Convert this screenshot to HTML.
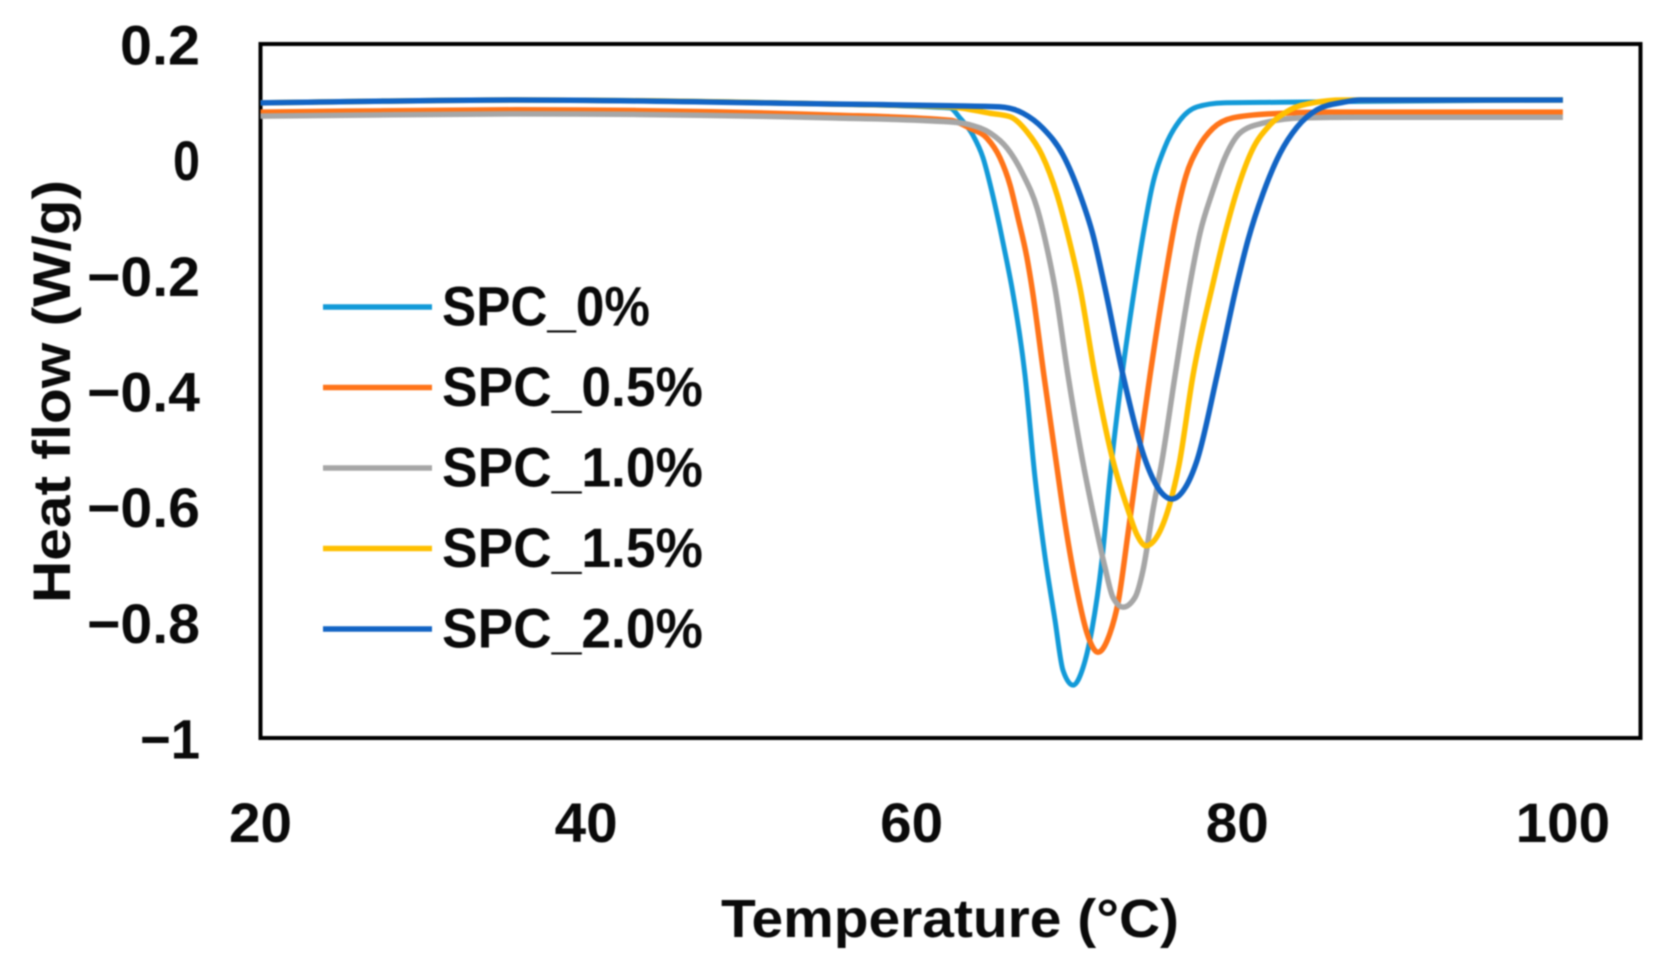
<!DOCTYPE html>
<html lang="en">
<head>
<meta charset="utf-8">
<title>Heat flow vs temperature</title>
<style>
html,body{margin:0;padding:0;background:#fff;width:1659px;height:969px;overflow:hidden}
svg{display:block;filter:blur(0.7px)}
text{font-family:"Liberation Sans",sans-serif;font-weight:bold;fill:#0a0a0a}
</style>
</head>
<body>
<svg id="chart" width="1659" height="969" viewBox="0 0 1659 969" xmlns="http://www.w3.org/2000/svg">
<rect x="260.5" y="44" width="1380" height="694" fill="none" stroke="#000" stroke-width="4"/>
<g id="ticks"></g>
<g id="series"></g>
<g id="legend"></g>
<text x="721" y="937" font-size="54" textLength="458" lengthAdjust="spacingAndGlyphs">Temperature (°C)</text>
<text transform="translate(70 603) rotate(-90)" font-size="53" textLength="423" lengthAdjust="spacingAndGlyphs">Heat flow (W/g)</text>
</svg>
<script>
const xTickValues = [20, 40, 60, 80, 100];
const yTickValues = [0.2, 0, -0.2, -0.4, -0.6, -0.8, -1];
const yTickLabels = ['0.2', '0', '−0.2', '−0.4', '−0.6', '−0.8', '−1'];
const seriesNames = ['SPC_0%', 'SPC_0.5%', 'SPC_1.0%', 'SPC_1.5%', 'SPC_2.0%'];
const seriesColors = ['#129ad8', '#ff7419', '#a6a6a6', '#ffc000', '#1264c4'];

const tempSpc00 = [20,35.7,55,62.35,62.96,63.76,64.38,64.93,65.42,65.85,66.16,66.96,67.57,68.19,68.8,69.29,69.91,70.52,71.07,71.69,72.18,72.92,73.72,74.21,74.76,75.56,76.48,77.53,79.13,82.63,90,100];
const flowSpc00 = [.1,.105,.098,.091,.074,.044,.005,-.054,-.116,-.175,-.22,-.371,-.547,-.685,-.794,-.881,-.907,-.877,-.811,-.69,-.547,-.371,-.215,-.129,-.046,.024,.07,.093,.1,.101,.103,.105];

const tempSpc05 = [20,35.7,55,62.35,63.58,64.62,65.42,66.04,66.53,67.08,67.39,68.12,68.86,69.42,70.15,70.77,71.44,72.18,72.67,73.29,73.9,74.64,75.5,76.23,76.85,77.59,78.51,79.74,82.01,85.69,100];
const flowSpc05 = [.084,.088,.079,.07,.056,.039,.005,-.042,-.099,-.168,-.22,-.371,-.518,-.627,-.743,-.817,-.85,-.817,-.765,-.644,-.518,-.371,-.215,-.099,-.026,.022,.056,.074,.081,.084,.084];

const tempSpc10 = [20,35.7,55,62.35,63.58,64.81,65.85,66.84,67.7,68.31,68.8,69.6,70.58,71.14,71.87,72.36,72.98,73.72,74.21,74.82,75.38,76.18,77.1,77.71,78.45,79.25,80.17,81.59,84.04,87.36,100];
const flowSpc10 = [.077,.081,.074,.067,.062,.048,.022,-.024,-.082,-.151,-.22,-.371,-.531,-.609,-.703,-.755,-.772,-.755,-.708,-.604,-.518,-.371,-.212,-.125,-.056,.006,.048,.065,.074,.075,.075];

const tempSpc15 = [20,35.7,55,62.35,64.81,66.04,67.08,68,68.93,69.6,70.34,71.26,72.43,73.23,73.84,74.39,75.13,75.87,76.42,77.28,78.51,79.25,79.99,80.91,82.01,83.24,84.65,86.5,100];
const flowSpc15 = [.1,.105,.098,.093,.082,.076,.05,.01,-.059,-.129,-.22,-.371,-.526,-.599,-.647,-.666,-.647,-.592,-.526,-.371,-.212,-.125,-.051,.018,.062,.088,.1,.105,.105];

const tempSpc20 = [20,35.7,55,62.35,65.42,66.84,68.06,69.29,70.34,71.14,71.87,72.98,74.39,75.13,75.99,76.79,77.53,78.76,79.99,80.66,81.59,82.63,83.67,84.9,86.5,87.54,100];
const flowSpc20 = [.1,.105,.098,.095,.093,.082,.056,.01,-.059,-.129,-.22,-.371,-.521,-.566,-.585,-.566,-.518,-.371,-.212,-.137,-.056,.013,.058,.088,.101,.105,.105];

const seriesTemps = [tempSpc00, tempSpc05, tempSpc10, tempSpc15, tempSpc20];
const seriesFlows = [flowSpc00, flowSpc05, flowSpc10, flowSpc15, flowSpc20];

const NS = 'http://www.w3.org/2000/svg';
function xScale(t) { return 260.5 + (t - 20) * 16.28; }
function yScale(v) { return 45 + (0.2 - v) * 578.3; }

function yLabelWidth(label) {
  let w = 0;
  for (const ch of label) w += ch === '−' ? 33 : ch === '.' ? 26 : 27;
  return w;
}

function monotonePath(xs, ys) {
  const n = xs.length;
  const slopes = [];
  for (let i = 0; i < n - 1; i++) slopes.push((ys[i + 1] - ys[i]) / (xs[i + 1] - xs[i]));
  const tangents = [slopes[0]];
  for (let i = 1; i < n - 1; i++) {
    if (slopes[i - 1] * slopes[i] <= 0) { tangents.push(0); continue; }
    const h0 = xs[i] - xs[i - 1];
    const h1 = xs[i + 1] - xs[i];
    const p = (slopes[i - 1] * h1 + slopes[i] * h0) / (h0 + h1);
    const limit = 2 * Math.min(Math.abs(slopes[i - 1]), Math.abs(slopes[i]));
    tangents.push(Math.sign(slopes[i]) * Math.min(limit, Math.abs(p)));
  }
  tangents.push(slopes[n - 2]);
  let d = 'M' + xs[0].toFixed(2) + ' ' + ys[0].toFixed(2);
  for (let i = 0; i < n - 1; i++) {
    const h = (xs[i + 1] - xs[i]) / 3;
    d += 'C' + (xs[i] + h).toFixed(2) + ' ' + (ys[i] + tangents[i] * h).toFixed(2) + ' '
      + (xs[i + 1] - h).toFixed(2) + ' ' + (ys[i + 1] - tangents[i + 1] * h).toFixed(2) + ' '
      + xs[i + 1].toFixed(2) + ' ' + ys[i + 1].toFixed(2);
  }
  return d;
}

const ticksGroup = document.getElementById('ticks');
xTickValues.forEach(function (t) {
  const el = document.createElementNS(NS, 'text');
  
  
  el.setAttribute('x', xScale(t));
  el.setAttribute('y', 842);
  el.setAttribute('font-size', 56);
  el.setAttribute('text-anchor', 'middle');
  el.setAttribute('textLength', String(t).length * 31.5);
  el.setAttribute('lengthAdjust', 'spacingAndGlyphs');
  el.textContent = String(t);
  ticksGroup.appendChild(el);
});
yTickValues.forEach(function (v, i) {
  const el = document.createElementNS(NS, 'text');
  
  
  el.setAttribute('x', 200);
  el.setAttribute('y', yScale(v) + 19.5);
  el.setAttribute('font-size', 56);
  el.setAttribute('text-anchor', 'end');
  el.setAttribute('textLength', yLabelWidth(yTickLabels[i]));
  el.setAttribute('lengthAdjust', 'spacingAndGlyphs');
  el.textContent = yTickLabels[i];
  ticksGroup.appendChild(el);
});

const seriesGroup = document.getElementById('series');
seriesNames.forEach(function (name, i) {
  const el = document.createElementNS(NS, 'path');
  
  
  el.setAttribute('d', monotonePath(seriesTemps[i].map(xScale), seriesFlows[i].map(yScale)));
  el.setAttribute('fill', 'none');
  el.setAttribute('stroke', seriesColors[i]);
  el.setAttribute('stroke-width', i === 0 ? 5 : 5.5);
  el.setAttribute('stroke-linejoin', 'round');
  seriesGroup.appendChild(el);
});

const legendGroup = document.getElementById('legend');
const legendWidths = [208, 261, 261, 261, 261];
seriesNames.forEach(function (name, i) {
  const rowY = 307 + i * 80.5;
  const swatch = document.createElementNS(NS, 'line');
  
  
  swatch.setAttribute('x1', 323);
  swatch.setAttribute('x2', 432);
  swatch.setAttribute('y1', rowY);
  swatch.setAttribute('y2', rowY);
  swatch.setAttribute('stroke', seriesColors[i]);
  swatch.setAttribute('stroke-width', 5.5);
  legendGroup.appendChild(swatch);
  const label = document.createElementNS(NS, 'text');
  
  
  label.setAttribute('x', 442);
  label.setAttribute('y', rowY + 18.5);
  label.setAttribute('font-size', 56);
  label.setAttribute('textLength', legendWidths[i]);
  label.setAttribute('lengthAdjust', 'spacingAndGlyphs');
  label.textContent = name;
  legendGroup.appendChild(label);
});
</script>
</body>
</html>
